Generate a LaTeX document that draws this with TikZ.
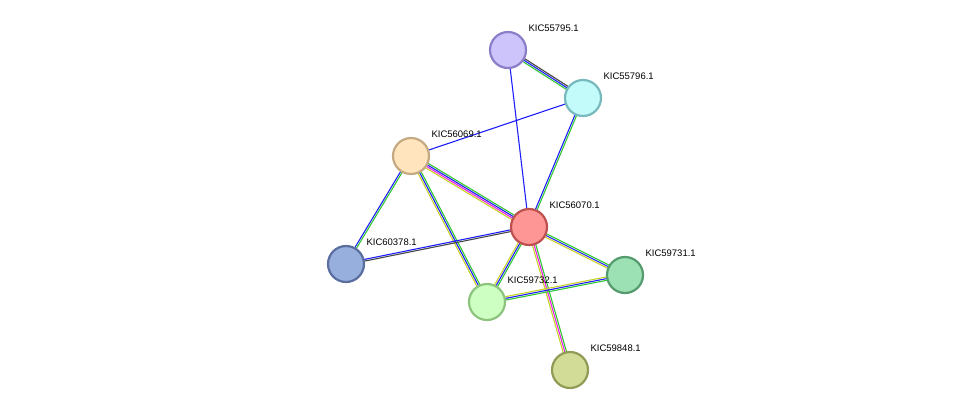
\documentclass[tikz,border=0pt]{standalone}
\usepackage{fontspec}
\setmainfont{Liberation Sans}
\usetikzlibrary{calc,backgrounds}
\definecolor{eg}{RGB}{50,200,50}
\definecolor{eb}{RGB}{30,30,250}
\definecolor{em}{RGB}{230,30,230}
\definecolor{ey}{RGB}{200,210,40}
\definecolor{ek}{RGB}{70,70,70}
\definecolor{f1}{RGB}{204,196,250}\definecolor{d1}{RGB}{140,125,200}
\definecolor{f2}{RGB}{195,250,250}\definecolor{d2}{RGB}{120,185,190}
\definecolor{f3}{RGB}{255,228,190}\definecolor{d3}{RGB}{195,170,130}
\definecolor{f4}{RGB}{255,150,150}\definecolor{d4}{RGB}{190,80,80}
\definecolor{f5}{RGB}{150,175,220}\definecolor{d5}{RGB}{90,110,160}
\definecolor{f6}{RGB}{155,225,180}\definecolor{d6}{RGB}{85,155,110}
\definecolor{f7}{RGB}{205,255,195}\definecolor{d7}{RGB}{140,195,125}
\definecolor{f8}{RGB}{210,220,150}\definecolor{d8}{RGB}{145,155,85}
\newcommand\sedge[4]{\foreach \c [count=\i] in {#4} {
  \pgfmathsetmacro\o{(\i-(#3+1)/2)*1.7}
  \draw[\c, line width=1.1pt] ($(#1)!\o pt!90:(#2)$) -- ($(#2)!\o pt!-90:(#1)$);}}
\begin{document}
\begin{tikzpicture}[x=1pt,y=-1pt,
  prot/.style={circle,minimum size=36pt,inner sep=0pt,line width=2.2pt},
  lab/.style={anchor=west,font=\fontsize{9.5pt}{11pt}\selectfont}]
\useasboundingbox (0,0) rectangle (975,416);
\def\pnode#1#2#3#4#5{\node[prot,fill=f#4,draw=d#4] (#1) at (#2,#3) {};
  \node[lab] (#1l) at (#2+17,#3-22) {#5};}
\pnode{a}{508}{50}{1}{KIC55795.1}
\pnode{b}{583}{98}{2}{KIC55796.1}
\pnode{c}{411}{156}{3}{KIC56069.1}
\pnode{d}{529}{227}{4}{KIC56070.1}
\pnode{e}{346}{264}{5}{KIC60378.1}
\pnode{f}{625}{275}{6}{KIC59731.1}
\pnode{g}{487}{302}{7}{KIC59732.1}
\pnode{h}{570}{370}{8}{KIC59848.1}
\begin{scope}[on background layer]
\sedge{a.center}{b.center}{3}{eg,eb,ek}
\sedge{a.center}{d.center}{1}{eb}
\sedge{b.center}{c.center}{1}{eb}
\sedge{b.center}{d.center}{2}{eb,eg}
\sedge{c.center}{d.center}{4}{ey,em,eb,eg}
\sedge{c.center}{e.center}{2}{eb,eg}
\sedge{c.center}{g.center}{3}{ey,eb,eg}
\sedge{d.center}{e.center}{2}{eb,ek}
\sedge{d.center}{f.center}{3}{ey,eb,eg}
\sedge{d.center}{g.center}{3}{ey,eb,eg}
\sedge{d.center}{h.center}{3}{ey,em,eg}
\sedge{g.center}{f.center}{3}{eg,eb,ey}
\end{scope}
\end{tikzpicture}
\end{document}
